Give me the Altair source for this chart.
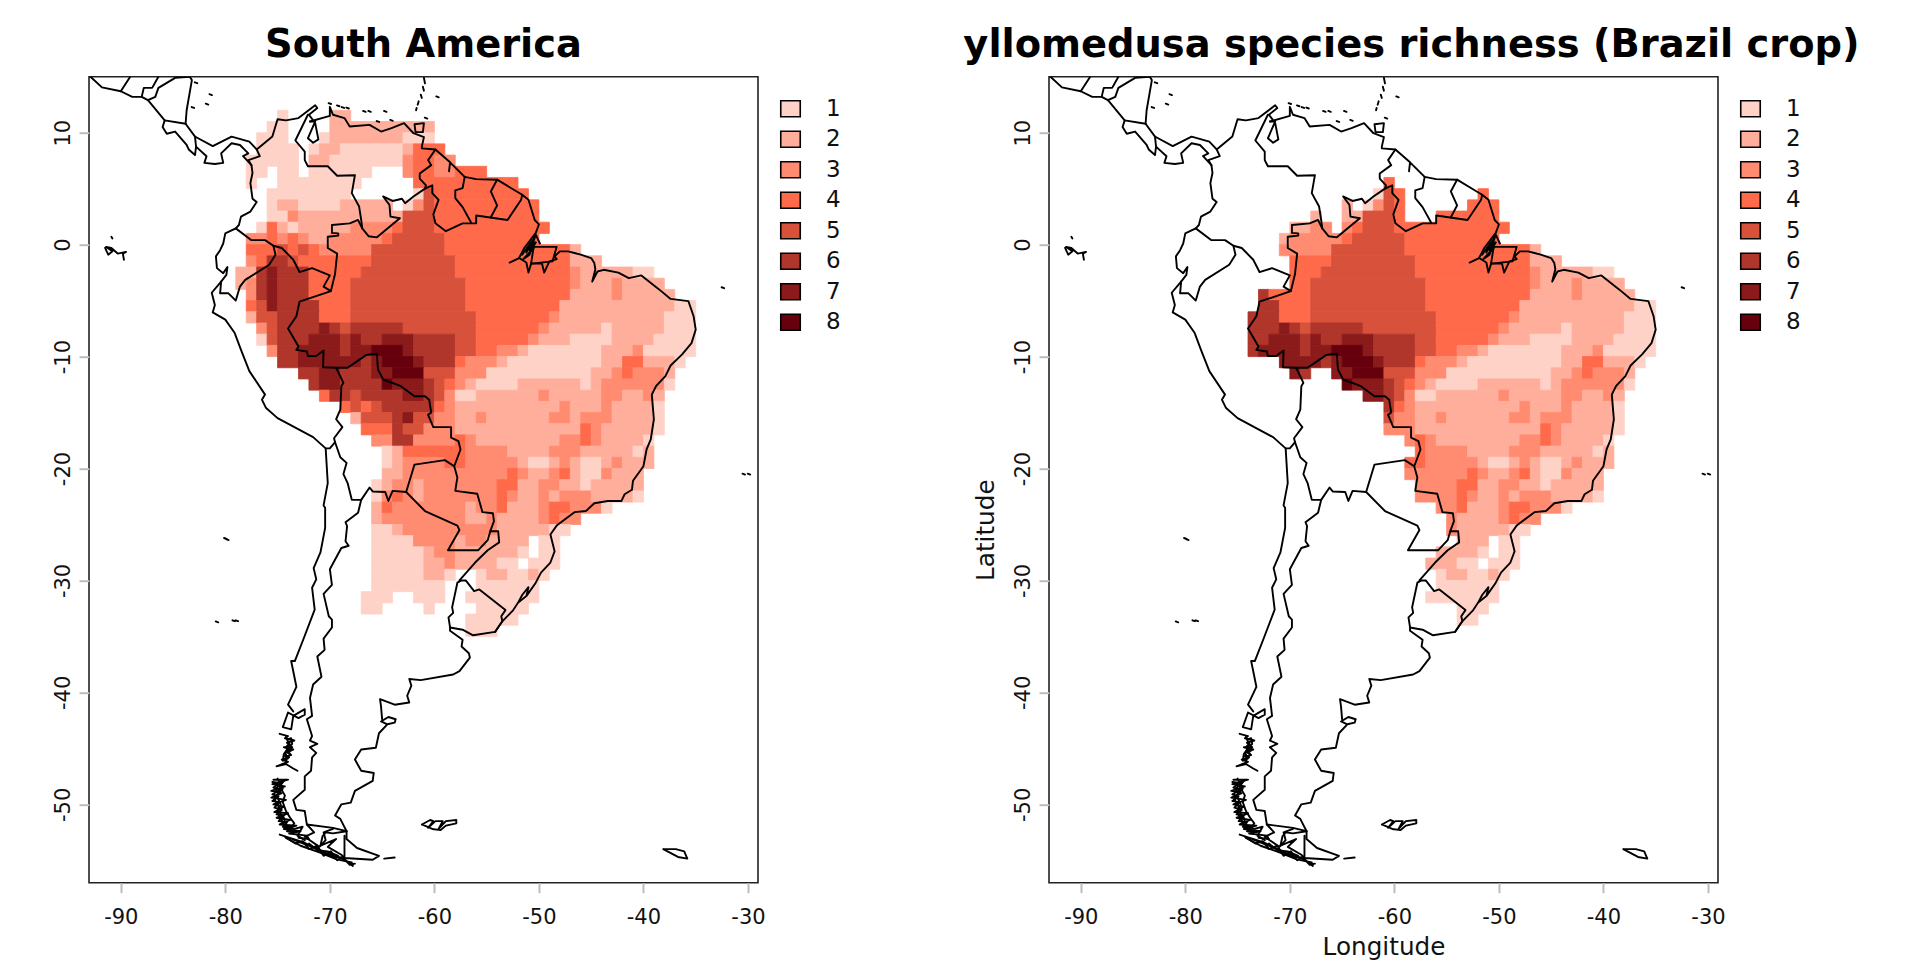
import altair as alt
import pandas as pd

COLORS = ["#FFD2C7", "#FFAE9C", "#FF8C71", "#FF6A4A", "#D7513B", "#B0352A", "#8B1A1A", "#67000D"]
LEVELS = [1, 2, 3, 4, 5, 6, 7, 8]
X_TICKS = [-90, -80, -70, -60, -50, -40, -30]
Y_TICKS = [10, 0, -10, -20, -30, -40, -50]

# richness by row: key = top latitude of the 1-degree row; list = lon, value, lon, value, ..., end lon (0 = no cell)
ROWS = {
 12: [-75,1,-74,0,-70,2,-68],
 11: [-76,1,-74,0,-70,2,-60],
 10: [-77,1,-74,0,-71,1,-70,2,-63,1,-60],
 9: [-77,1,-73,0,-72,1,-71,2,-69,1,-63,2,-62,4,-59],
 8: [-78,1,-73,0,-72,2,-70,1,-63,3,-62,4,-60,3,-58],
 7: [-78,1,-76,0,-75,1,-73,0,-72,1,-66,0,-63,3,-62,4,-60,3,-58,4,-55],
 6: [-78,1,-77,0,-75,1,-67,0,-62,4,-52],
 5: [-76,1,-68,0,-62,1,-61,5,-60,4,-51],
 4: [-76,1,-75,2,-73,1,-69,2,-64,0,-63,1,-62,3,-61,5,-60,4,-50],
 3: [-76,1,-74,3,-73,2,-63,5,-60,4,-50],
 2: [-77,1,-76,4,-75,2,-74,1,-73,2,-68,3,-64,4,-63,5,-60,4,-49],
 1: [-78,3,-76,4,-75,3,-74,4,-73,3,-72,2,-70,3,-65,4,-64,5,-59,4,-50],
 0: [-78,4,-75,5,-74,4,-73,5,-72,4,-71,3,-66,5,-59,4,-47,2,-46],
 -1: [-78,3,-77,4,-76,6,-74,5,-73,4,-66,5,-58,4,-47,2,-44],
 -2: [-79,2,-77,6,-76,7,-75,6,-72,4,-67,5,-58,4,-47,3,-46,2,-41,1,-39],
 -3: [-79,2,-78,3,-77,6,-76,7,-75,6,-72,4,-68,5,-57,4,-47,3,-46,2,-43,3,-42,2,-38],
 -4: [-78,3,-77,6,-76,7,-75,6,-72,4,-68,5,-57,4,-47,2,-43,3,-42,2,-37],
 -5: [-78,4,-77,5,-76,7,-75,6,-71,4,-68,5,-57,4,-48,2,-37,1,-35],
 -6: [-78,2,-77,5,-75,6,-71,4,-68,5,-56,4,-49,3,-48,2,-38,1,-35],
 -7: [-77,3,-76,5,-75,6,-71,7,-70,6,-69,5,-68,6,-63,5,-56,4,-50,3,-49,2,-44,1,-43,2,-38,1,-35],
 -8: [-77,1,-76,5,-75,6,-72,7,-69,6,-68,7,-67,6,-65,7,-62,6,-58,5,-56,4,-51,3,-50,2,-47,1,-43,2,-39,1,-35],
 -9: [-76,3,-75,6,-73,7,-69,6,-68,7,-66,8,-63,7,-62,6,-58,5,-56,4,-54,3,-52,2,-51,1,-44,2,-41,3,-40,1,-35],
 -10: [-75,6,-73,7,-67,6,-66,7,-65,8,-62,7,-61,6,-58,4,-57,3,-54,2,-53,1,-44,2,-42,4,-40,2,-37,1,-36],
 -11: [-73,6,-71,7,-69,6,-66,7,-64,8,-61,5,-58,3,-55,1,-45,2,-43,3,-42,4,-41,3,-38,2,-37],
 -12: [-72,6,-71,7,-69,6,-65,8,-64,7,-61,6,-60,5,-59,4,-58,3,-57,2,-56,1,-52,2,-46,1,-45,2,-44,3,-38,1,-37],
 -13: [-71,4,-70,6,-68,5,-67,6,-63,7,-61,6,-60,5,-59,3,-58,1,-56,2,-50,3,-49,2,-44,3,-42,2,-40,3,-39,2,-38],
 -14: [-69,4,-68,5,-67,4,-66,5,-65,6,-60,4,-59,3,-58,2,-48,3,-47,2,-44,3,-43,2,-39,1,-38],
 -15: [-68,2,-67,5,-64,6,-63,7,-62,5,-60,3,-58,2,-56,3,-55,2,-49,3,-47,2,-46,3,-43,2,-39,1,-38],
 -16: [-67,4,-64,6,-63,5,-61,3,-58,2,-46,4,-45,3,-44,2,-39,1,-38],
 -17: [-66,3,-64,6,-62,3,-58,4,-57,3,-56,2,-48,3,-46,4,-45,3,-44,2,-40,1,-39],
 -18: [-65,1,-64,2,-63,4,-57,3,-53,2,-49,3,-46,2,-41,1,-40,2,-39],
 -19: [-65,1,-64,2,-63,3,-59,4,-57,3,-52,2,-51,1,-49,2,-48,3,-47,2,-46,1,-44,2,-43,3,-42,2,-39],
 -20: [-65,2,-63,3,-53,4,-52,3,-51,2,-49,3,-48,4,-47,2,-46,1,-44,3,-43,2,-40],
 -21: [-66,1,-65,2,-64,3,-62,2,-61,3,-54,4,-52,2,-50,3,-48,2,-46,1,-45,2,-40],
 -22: [-66,1,-65,3,-64,4,-63,3,-62,2,-61,3,-54,4,-53,3,-52,2,-50,3,-49,2,-48,3,-45,2,-41,1,-40],
 -23: [-66,2,-65,4,-64,3,-57,2,-56,3,-54,4,-53,2,-50,3,-49,4,-47,3,-44,1,-43],
 -24: [-66,2,-65,3,-57,2,-55,3,-54,2,-50,3,-49,4,-48,3,-46],
 -25: [-66,1,-64,2,-63,3,-54,2,-49,1,-47],
 -26: [-66,1,-62,3,-58,2,-57,3,-55,2,-51,0,-50,1,-48],
 -27: [-66,1,-61,2,-60,3,-58,2,-52,1,-51,0,-50,1,-48],
 -28: [-66,1,-61,2,-59,3,-58,2,-54,1,-52,0,-51,1,-48],
 -29: [-66,1,-61,2,-59,1,-58,0,-56,1,-55,2,-53,1,-51,2,-50,1,-49],
 -30: [-66,1,-59,0,-56,1,-50],
 -31: [-67,1,-64,0,-62,1,-59,0,-57,1,-50],
 -32: [-67,1,-65,0,-61,1,-60,0,-56,1,-51],
 -33: [-57,1,-52],
 -34: [-57,1,-54],
}

# Brazil crop: kept lon ranges of each row
CROP = {
 6: [(-61,-60)], 5: [(-62,-59),(-52,-51)], 4: [(-65,-64),(-63,-59),(-53,-50)],
 3: [(-68,-67),(-65,-59),(-56,-50)], 2: [(-70,-66),(-65,-49)], 1: [(-71,-30)], 0: [(-71,-30)],
 -1: [(-70,-30)], -2: [(-70,-30)], -3: [(-70,-30)], -4: [(-73,-30)], -5: [(-73,-30)],
 -6: [(-74,-30)], -7: [(-74,-30)], -8: [(-74,-30)], -9: [(-74,-30)], -10: [(-71,-30)],
 -11: [(-70,-68),(-66,-30)], -12: [(-65,-30)], -13: [(-63,-30)], -14: [(-61,-30)],
 -15: [(-61,-30)], -16: [(-61,-30)], -17: [(-59,-30)], -18: [(-58,-30)], -19: [(-59,-30)],
 -20: [(-59,-30)], -21: [(-58,-30)], -22: [(-58,-30)], -23: [(-56,-30)], -24: [(-55,-30)],
 -25: [(-55,-30)], -26: [(-54,-30)], -27: [(-56,-30)], -28: [(-57,-30)], -29: [(-56,-30)],
 -30: [(-56,-30)], -31: [(-57,-30)], -32: [(-54,-51)], -33: [(-54,-52)],
}

# outlines, lon/lat
PACIFIC = [(-92.9,15),(-91.8,14.05),(-90,13.7),(-88.9,13.2),(-88,13.2),(-87.4,12.9),(-85.8,11.1),(-86,10.5),(-85.6,9.9),(-84.8,10.1),(-83.7,8.9),(-83.5,8.5),(-82.9,8),(-82.8,8.75),(-81.8,7.9),(-82,7.3),(-81,7.2),(-80.2,7.3),(-80.4,8.15),(-79.4,9.05),(-78.6,8.9),(-77.8,8.15),(-78.3,7.9),(-77.5,7.1),(-77.4,6.4),(-77.6,5.5),(-77.4,4.1),(-77,3.8),(-77.6,2.95),(-78.5,2.5),(-78.7,1.75),(-79,1.45),(-80,1),(-80.2,0.1),(-80.5,-0.5),(-80.9,-1.05),(-80.8,-2.1),(-80.2,-2.55),(-79.8,-2),(-79.9,-2.7),(-80.4,-3.3),(-81.3,-4.3),(-81,-5.4),(-81.2,-6.05),(-80,-6.7),(-79.1,-7.9),(-78.5,-9.4),(-77.7,-11.3),(-76.2,-13.4),(-76.5,-13.85),(-76.1,-14.6),(-75,-15.5),(-71.6,-17.2),(-70.4,-18.2),(-70.2,-21.3),(-70.6,-23.3),(-70.45,-23.5),(-70.45,-25.3),(-70.9,-27.5),(-71.55,-28.9),(-71.3,-29.9),(-71.7,-30.65),(-71.45,-32.6),(-72.55,-35.3),(-73.35,-37.2),(-73.7,-37.2),(-73.2,-39.5),(-74,-41.1),(-73.5,-41.7)]
ANDES = [(-67,-22.8),(-67.3,-23.95),(-68.5,-24.8),(-68.35,-25.15),(-68.5,-26.5),(-68.2,-26.9),(-68.9,-27.1),(-70,-29),(-69.8,-30.4),(-70.6,-31.2),(-70.1,-33.2),(-69.8,-33.5),(-69.8,-34.2),(-70.6,-35.2),(-70.5,-36.2),(-71.2,-36.8),(-70.8,-38.6),(-71.6,-39.3),(-71.9,-40.5),(-71.7,-42.1),(-72.2,-42.4),(-71.7,-43.9),(-71.9,-44.3),(-71.2,-44.6),(-71.9,-44.9),(-71.3,-45.4),(-71.7,-45.8),(-71.8,-47),(-72.4,-47.5),(-72.4,-48.7),(-73.5,-49.6),(-73.2,-50.5),(-72.4,-50.6),(-72.2,-51.8),(-69.7,-52.1),(-68.4,-52.4)]
ATLANTIC_S = [(-68.4,-52.4),(-69,-51.3),(-69.5,-51),(-68.9,-50),(-68,-49.85),(-67.6,-48.8),(-65.9,-47.9),(-65.8,-47.2),(-67,-47),(-67.6,-46),(-67,-45.1),(-65.6,-44.95),(-65.3,-43.65),(-64.5,-42.85),(-65.1,-42.6),(-64.4,-42.2),(-63.7,-42.4),(-63.8,-42.7),(-64.5,-42.85)]
ATLANTIC_M = [(-65,-42.4),(-65.1,-41.3),(-65.2,-40.6),(-63.8,-41.1),(-62.4,-40.9),(-62.6,-40.3),(-62.2,-39.4),(-62.4,-38.8),(-61.3,-38.9),(-58.2,-38.4),(-57.6,-38.1),(-56.6,-36.9),(-56.7,-36.5),(-57.4,-35.9),(-57.3,-35.3),(-58.5,-34.5),(-58.5,-34.2)]
URUGUAY = [(-57.4,-30),(-57,-30),(-56.2,-30.95),(-55.7,-30.8),(-53.2,-32.65),(-53.6,-33.2),(-53.5,-33.65),(-54.2,-34.6),(-56.3,-34.9),(-57.3,-34.4),(-58.5,-34.2),(-58.65,-33.3),(-58.2,-32.9),(-58.3,-32.4),(-57.8,-30.2),(-57.4,-30)]
BRAZIL_E = [(-54.2,-34.6),(-53.5,-33.65),(-52.5,-32.7),(-52,-32),(-51.6,-31.3),(-51,-30.6),(-51.2,-31.4),(-52,-32),(-51.2,-31.4),(-50.3,-30.2),(-49.8,-29.3),(-48.9,-28.4),(-48.5,-27.4),(-48.9,-25.9),(-48.3,-25.1),(-46.6,-23.9),(-45.5,-23.8),(-44.7,-23.1),(-43.4,-22.9),(-42.1,-22.9),(-41.8,-22.3),(-41.1,-21.9),(-41,-21.1),(-40,-19.8),(-39.7,-18.3),(-39.3,-17.4),(-39,-15.6),(-39.2,-13.4),(-38.8,-12.65),(-37.9,-11.75),(-37.4,-10.8),(-36.3,-9.8),(-35.4,-8.8),(-35,-7.6),(-35.2,-6.4),(-35.7,-5.05),(-37.4,-4.85),(-38.5,-4),(-40.2,-2.75),(-41.4,-3),(-42.4,-2.5),(-43.8,-2.25),(-44.4,-2.4),(-44.9,-3.3),(-44.6,-2.2),(-44.7,-1.65),(-45,-1.2),(-46,-0.9),(-46.6,-0.75),(-47.2,-0.6),(-48,-0.6),(-48.5,-1.05),(-48.3,-1.3),(-49,-1.5),(-49.5,-2.5),(-49.7,-1.7),(-50.75,-1.7),(-51,-2.5),(-51.2,-1.6),(-51.9,-1.2),(-52.8,-1.6),(-51.9,-1.2),(-51.4,-0.3),(-50.3,1.05),(-50,1.8),(-50.4,2.2),(-51,4),(-51.6,4.45),(-52.4,4.9),(-54,5.8),(-56,5.85),(-57.1,6.05),(-58.5,7.35),(-58.6,6.55),(-58.5,7.35),(-59.9,8.5),(-61.2,8.6),(-61.2,8.75),(-61,9.6),(-62,9.95),(-62.9,10.85),(-64.1,10.4),(-65.1,10.1),(-66.2,10.7),(-68.1,10.55),(-68.6,11.3),(-69.7,11.6),(-70,12.3),(-70,11.5),(-71.9,11)]
DELTA = [(-51.6,-0.9),(-50.7,0.3),(-51.2,-0.7),(-50.4,0.7),(-50.9,-0.5),(-50.3,0.2),(-51.1,-1),(-50.5,-0.3),(-51.5,-1.3),(-50.9,-0.9),(-50.3,0.9),(-49.9,0.1)]
MARAJO = [(-50.5,-0.2),(-48.3,-0.2),(-48.7,-1.5),(-50.75,-1.7),(-50.5,-0.2)]
TRINIDAD = [(-61.9,10.75),(-61,10.85),(-61.1,10.05),(-61.8,10.05),(-61.9,10.75)]
MARACAIBO = [(-71.9,11),(-71.4,11),(-72.1,9.5),(-71.6,9.1),(-71.1,9.4),(-71.4,10.85),(-72,11.6)]
CARIBBEAN = [(-72,11.6),(-71.2,12.2),(-71.4,12.45),(-73,11.3),(-74.2,11.1),(-75,11.2),(-75.5,9.65),(-77,8.5),(-77.7,9.2),(-79.4,9.65),(-81.2,8.8),(-82.6,9.5),(-82.9,9.65),(-83.8,10.8),(-83.7,12),(-83.2,14.7),(-83.4,15)]
NIC_HON = [(-83.4,15),(-84.8,14.9),(-86.4,14),(-86.7,13.2),(-87.4,12.9)]
ELSAL = [(-89.1,15),(-90,13.7)]
HON2 = [(-88,13.2),(-87.8,14.0),(-87.0,14.0),(-86.4,15)]
COSTARICA = [(-85.8,11.1),(-83.8,10.8)]
PANAMA = [(-82.9,9.65),(-82.8,8.75)]
DARIEN = [(-77,8.5),(-76.7,7.9),(-77.8,7.55),(-77.5,7.1)]
COL_VEN = [(-66.9,1.45),(-67,2.2),(-67.2,3.4),(-67.9,4.6),(-67.6,6.2),(-69.3,6.15),(-70.2,7),(-72.1,7),(-72.4,7.55),(-72.4,8.3),(-73.3,9.3),(-72.1,11.6)]
VEN_BRA = [(-59.9,8.5),(-60.6,7.55),(-60.3,7.1),(-61.4,6.35),(-61.4,5.9),(-60.8,5.3),(-60.9,5),(-62,4.3),(-62.8,3.7),(-63.1,4.1),(-64,3.9),(-64.9,4.3),(-64.3,3.55),(-64.2,2.5),(-63.3,2.35),(-65.5,0.65),(-66.3,0.75),(-66.9,1.45),(-67.3,2.2),(-68.1,1.9),(-69.8,1.75),(-69.8,1.05),(-69.2,1),(-69.2,0.8),(-70.2,0.7),(-70.2,-0.3),(-69.3,-0.8),(-69.5,-2.6),(-69.9,-4.15)]
GUY_BRA = [(-60.9,5),(-60.2,5.3),(-60.2,4.6),(-59.6,4),(-60.1,2.7),(-59.9,1.9),(-58.9,1.2),(-57.3,1.9),(-56,1.9),(-56,2.6),(-53,2.2),(-51.7,4),(-51.6,4.45)]
SURINAME = [(-57.1,6.05),(-57.3,5.05),(-58,4.85),(-58,4.15),(-57.3,3.35),(-56.5,2)]
FRGUIANA = [(-54,5.8),(-54.6,4.75),(-54,3.5),(-54.6,2.45)]
ECU_COL_PER = [(-79,1.45),(-77.5,0.4),(-76.2,0.4),(-75.4,-0.1),(-74.6,-0.3),(-73.5,-1.35),(-72.9,-2.45),(-71.7,-2.1),(-70,-2.75),(-70.6,-3.75),(-69.9,-4.15),(-72.9,-5.1),(-73.2,-6.4),(-74,-7.5),(-73,-9.1),(-73.2,-9.4),(-72.2,-9.55),(-72.1,-9.95),(-71.3,-9.95),(-70.6,-9.45),(-70.65,-10.95),(-69.4,-11)]
ECU_PER = [(-75.4,-0.1),(-75.2,-0.9),(-75.8,-1.8),(-78.1,-3.15),(-78.6,-3.75),(-79,-5),(-79.7,-4.35),(-80.5,-4.35),(-80.4,-3.3)]
BOL_BRA = [(-69.4,-11),(-68.3,-11),(-66.5,-9.85),(-65.5,-9.75),(-65.4,-11.15),(-64.9,-12.05),(-63.2,-12.65),(-61.9,-13.55),(-60.9,-13.55),(-60.5,-13.85),(-60.3,-15),(-60.6,-15.2),(-60.1,-16.3),(-58.4,-16.3),(-58.4,-17.25),(-57.7,-17.55),(-57.5,-18.3),(-58.1,-19.8),(-57.8,-20.8),(-58,-22),(-55.9,-22.25),(-55.4,-23.9),(-54.4,-24),(-54.3,-24.7),(-54.65,-25.6),(-54.9,-26.4),(-55.8,-27.3),(-58.7,-27.3),(-57.6,-25.5),(-57.8,-25.1),(-60.9,-23.8),(-62.7,-22.1),(-61.9,-19.65),(-59,-19.25),(-58.1,-19.8)]
ARG_BRA = [(-54.65,-25.6),(-53.9,-25.6),(-53.8,-26.6),(-54.9,-27.3),(-56.1,-28.4),(-57.6,-30)]
BOL_ARG_CHI = [(-62.7,-22.1),(-64,-22),(-64.4,-22.9),(-64.7,-22.1),(-65.9,-22.05),(-66.2,-21.7),(-67,-22.8),(-67.9,-22.8),(-68.3,-21.3),(-68.7,-20.5),(-68.4,-19.5),(-69,-19),(-69.5,-17.65),(-69.6,-17.3),(-68.8,-16.3),(-69.4,-15.6),(-69,-14.75),(-68.9,-12.65),(-68.7,-12.35),(-69.4,-11)]
CHI_PER = [(-69.5,-17.65),(-70,-18.2),(-70.4,-18.2)]
# Patagonia
CHILOE = [(-74,-41.8),(-74.5,-43.1),(-73.7,-43.3),(-73.5,-42.1),(-72.4,-41.5),(-72.4,-42),(-73,-42.3),(-74,-41.8)]
CHONOS = [(-74.8,-43.7),(-74,-43.9),(-74.3,-44.1),(-73.4,-44.3),(-74.1,-44.5),(-73.6,-44.9),(-74.4,-44.9),(-73.5,-45.1),(-74.2,-45.3),(-73.7,-45.6),(-74.4,-45.7),(-73.9,-45.8),(-74.6,-46),(-74,-46.2),(-75.1,-46.6),(-74.2,-46.4),(-73.5,-46.8),(-73.1,-47)]
CHONOS2 = [(-74.2,-44),(-73.9,-44.6),(-74.2,-44.9),(-73.7,-45.2),(-74.3,-45.4),(-74,-45.9),(-74.5,-46.1),(-74.4,-45.5),(-73.8,-44.7),(-74.1,-44.2),(-73.7,-44.1),(-73.6,-44.6),(-74.1,-45.1),(-73.8,-45.5),(-74.2,-46.1)]
FJORDS = [(-75.4,-47.8),(-74,-47.8),(-75.5,-48.2),(-74.3,-48.4),(-75.6,-48.8),(-74.6,-49),(-75.6,-49.4),(-74.2,-49.6),(-75.4,-50),(-74.4,-50.2),(-75.3,-50.7),(-74,-50.8),(-75.1,-51.2),(-73.8,-51.4),(-74.8,-51.8),(-73.2,-51.9),(-74.4,-52.2),(-72.8,-52.4),(-73.9,-52.6),(-72.2,-52.8),(-72,-53.1),(-73,-53)]
FJORDS2 = [(-75,-47.7),(-74.5,-48.6),(-75.1,-49.2),(-74.7,-50),(-74.9,-50.6),(-74.4,-51.2),(-74.2,-51.9),(-73.4,-52.2),(-72.6,-52),(-73.1,-52.8),(-72.4,-53.2)]
FJORDS3 = [(-75.5,-48),(-74.8,-48.1),(-75.4,-48.5),(-74.7,-48.7),(-75.5,-49.1),(-74.9,-49.3),(-75.5,-49.7),(-74.8,-49.8),(-75.3,-50.3),(-74.6,-50.5),(-75.1,-50.9),(-74.4,-51),(-74.9,-51.5),(-74.1,-51.6),(-74.5,-52),(-73.7,-52.1),(-74.1,-52.4),(-73.2,-52.5)]
FJORDS4 = [(-74.7,-48),(-75.2,-48.7),(-74.9,-48.9),(-75.3,-49.6),(-74.9,-50.1),(-75,-50.8),(-74.6,-51.4),(-74.5,-51.7),(-73.9,-52.3),(-73.4,-51.7),(-73.8,-51.2),(-74.2,-50.6),(-74.5,-49.8),(-74.3,-49.2),(-74.8,-48.4),(-74.4,-47.9)]
FUEGO_ISLES = [(-74.8,-52.7),(-72.5,-53.4),(-71.4,-53.9),(-70,-54.5),(-68.6,-54.9),(-67.8,-55.5),(-67.9,-55.2),(-69.4,-54.9),(-71,-54.3),(-72.8,-53.7),(-74.2,-53)]
FUEGO_ISLES2 = [(-73.6,-53.1),(-72,-53.7),(-70.4,-54.4),(-69.2,-54.6),(-70.2,-54.2),(-71.2,-54.1),(-72,-53.5)]
FUEGO_ISLES3 = [(-74.3,-52.9),(-73.3,-53.5),(-72.6,-53.3),(-72,-54),(-71.2,-53.7),(-70.6,-54.6),(-69.9,-54.2),(-69.3,-55),(-68.8,-54.7),(-68.1,-55.4),(-67.6,-55.3)]
FUEGO = [(-68.6,-52.8),(-68.6,-54.8),(-65.9,-54.95),(-65.3,-54.6),(-67.4,-53.9),(-68.4,-53.1),(-68.4,-52.4),(-69.7,-52.6),(-70.4,-52.5),(-70.7,-52.85),(-70.9,-53.7),(-69.4,-53.1),(-70.2,-53.8),(-68.9,-54.5),(-68.6,-54.8),(-70,-54.6)]
STRAIT = [(-72.2,-51.8),(-71.5,-52.5),(-72.4,-52.9),(-71,-53.8),(-70.4,-53.2),(-70.6,-52.5),(-69.7,-52.2)]
STATEN = [(-64.8,-54.85),(-63.8,-54.75)]
FALKLAND = [(-61.2,-51.8),(-60.4,-51.4),(-60.1,-51.5),(-60.6,-52.1),(-59.9,-51.5),(-59.2,-51.5),(-59.6,-52.2),(-58.9,-51.5),(-57.9,-51.4),(-57.9,-51.7),(-58.9,-51.9),(-59.4,-52.3),(-60.2,-52.2),(-61.2,-51.8)]
GEORGIA = [(-38.1,-54),(-36.9,-54),(-36.1,-54.2),(-35.8,-54.85),(-36.7,-54.7),(-38.1,-54)]
GALAPAGOS = [(-91.5,-0.3),(-91.2,-0.9),(-90.8,-0.6),(-91.4,-0.2),(-90.9,-0.3),(-90.3,-0.8),(-89.5,-0.65),(-89.8,-0.8),(-89.7,-1.35)]
GALAP2 = [(-90.9,0.7),(-90.8,0.55)]
DOTS = [(-82.8,14.46),(-81.4,13.4),(-81.75,12.55),(-83.1,12.25),(-70,12.6),(-69.2,12.4),(-68.75,12.25),(-68.3,12.2),(-66.7,11.9),(-66.2,11.9),(-64.7,11.9),(-65.4,11),(-64.1,11.1),(-60.8,11.3),(-59.7,13.2),(-32.4,-3.85),(-30.4,-20.5),(-29.9,-20.5),(-80.8,-33.7),(-79.2,-33.6),(-78.9,-33.6),(-80,-26.25),(-79.8,-26.35)]
WINDWARD = [[(-61,14.9),(-60.9,14.4)],[(-61.1,14.1),(-61,13.75)],[(-61.3,13.4),(-61.2,13.1)],[(-61.5,12.8),(-61.6,12.5)],[(-61.7,12.2),(-61.75,12)]]

PATHS = [PACIFIC, ANDES, ATLANTIC_S, ATLANTIC_M, URUGUAY, BRAZIL_E, DELTA, MARAJO, TRINIDAD, MARACAIBO, CARIBBEAN,
         NIC_HON, ELSAL, HON2, COSTARICA, PANAMA, DARIEN, COL_VEN, VEN_BRA, GUY_BRA, SURINAME, FRGUIANA,
         ECU_COL_PER, ECU_PER, BOL_BRA, ARG_BRA, BOL_ARG_CHI, CHI_PER, CHILOE, CHONOS, CHONOS2, FJORDS, FJORDS2, FJORDS3, FJORDS4,
         FUEGO_ISLES, FUEGO_ISLES2, FUEGO_ISLES3, FUEGO, STRAIT, STATEN, FALKLAND, GEORGIA, GALAPAGOS, GALAP2] + WINDWARD

line_rows = []
for pid, path in enumerate(PATHS):
    for k, (lon, lat) in enumerate(path):
        line_rows.append({"lon": lon, "lat": lat, "pid": pid, "k": k})
for j, (lon, lat) in enumerate(DOTS):
    pid = len(PATHS) + j
    line_rows.append({"lon": lon - 0.12, "lat": lat + 0.04, "pid": pid, "k": 0})
    line_rows.append({"lon": lon + 0.12, "lat": lat - 0.04, "pid": pid, "k": 1})
lines = pd.DataFrame(line_rows)


def cells(crop=None):
    out = []
    for top, r in ROWS.items():
        for i in range(0, len(r) - 1, 2):
            a, v, b = r[i], r[i + 1], r[i + 2]
            if v == 0:
                continue
            if crop is None:
                out.append({"x1": a, "x2": b, "y1": top - 1, "y2": top, "v": v})
            else:
                for lo, hi in crop.get(top, []):
                    s, e = max(a, lo), min(b, hi)
                    if s < e:
                        out.append({"x1": s, "x2": e, "y1": top - 1, "y2": top, "v": v})
    return pd.DataFrame(out)


FONT = "DejaVu Sans"
W, H = 669, 806
xs = alt.Scale(domain=[-93.04, -29.04], nice=False, zero=False)
ys = alt.Scale(domain=[-57, 15], nice=False, zero=False)
cs = alt.Scale(domain=LEVELS, range=COLORS)
LABEL = "'' + datum.value"


def panel(df, title, xtitle, ytitle, title_dx):
    xax = alt.Axis(values=X_TICKS, title=xtitle, grid=False, domain=False, tickColor="#BDBDBD", tickWidth=2, tickSize=10,
                   labelFontSize=21, labelFont=FONT, labelColor="#111", labelPadding=13.5, labelFlush=False, labelExpr=LABEL,
                   titleFont=FONT, titleFontSize=24.7, titleFontWeight="normal", titleColor="#111", titleY=52, labelOverlap=False)
    yax = alt.Axis(values=Y_TICKS, title=ytitle, grid=False, domain=False, tickColor="#BDBDBD", tickWidth=2, tickSize=10,
                   labelFontSize=21, labelFont=FONT, labelColor="#111", labelAngle=-90, labelAlign="center", labelBaseline="bottom",
                   labelPadding=5.5, labelExpr=LABEL, titleFont=FONT, titleFontSize=24.7, titleFontWeight="normal", titleColor="#111",
                   titleX=-50, titleY=453, labelOverlap=False)
    rect = alt.Chart(df).mark_rect(strokeWidth=0.8).encode(
        x=alt.X("x1:Q", scale=xs, axis=xax),
        x2="x2:Q",
        y=alt.Y("y1:Q", scale=ys, axis=yax),
        y2="y2:Q",
        fill=alt.Fill("v:N", scale=cs, legend=alt.Legend(
            orient="none", legendX=690, legendY=20.5, title=None, symbolType="M-1,-0.82H1V0.82H-1Z", symbolSize=380,
            symbolStrokeColor="black", symbolStrokeWidth=1.6, symbolOpacity=1, labelFont=FONT, labelFontSize=23, labelColor="#111",
            labelOffset=24, rowPadding=6.5)),
        stroke=alt.Stroke("v:N", scale=cs, legend=None),
    )
    outline = alt.Chart(lines).mark_line(color="black", strokeWidth=1.9, clip=True, strokeJoin="round", strokeCap="round").encode(
        x=alt.X("lon:Q", scale=xs),
        y=alt.Y("lat:Q", scale=ys),
        detail="pid:N",
        order="k:Q",
    )
    return (rect + outline).resolve_scale(fill="independent").properties(
        width=W, height=H,
        title=alt.TitleParams(title, font=FONT, fontSize=38.4, fontWeight="bold", color="black", anchor="middle", offset=11, dx=title_dx),
    )


left = panel(cells(), "South America", None, None, 0)
right = panel(cells(CROP), "yllomedusa species richness (Brazil crop)", "Longitude", "Latitude", 28)

chart = alt.hconcat(left, right, spacing=291, bounds="flush").resolve_scale(fill="independent", stroke="independent").configure_view(
    stroke="#222", strokeWidth=1.6
).properties(padding={"left": 43, "top": 16.7, "right": 5, "bottom": 6}, background="white")

chart.save("out.html", embed_options={"renderer": "svg", "actions": False})
